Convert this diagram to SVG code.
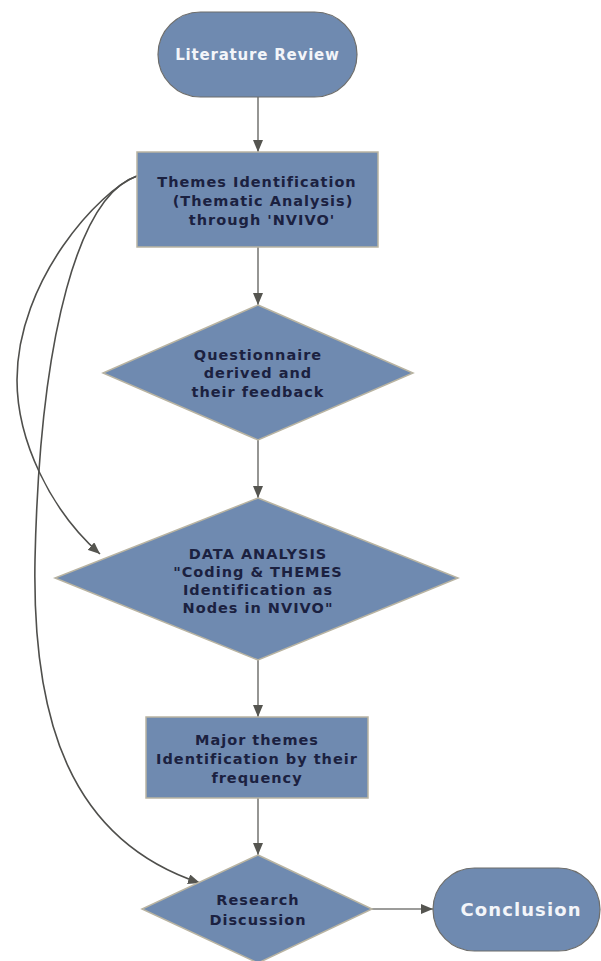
<svg xmlns="http://www.w3.org/2000/svg" width="601" height="961" viewBox="0 0 601 961">
<defs>
<style>
.shape{fill:#6f8ab0;stroke:#b9b4a2;stroke-width:1.5}
.pill{fill:#6f8ab0;stroke:#6d6d6b;stroke-width:1.2}
.t{font-family:"DejaVu Sans",Verdana,sans-serif;font-weight:bold;font-size:14.5px;letter-spacing:1px;fill:#1b2140;text-anchor:middle}
.w{font-family:"DejaVu Sans",Verdana,sans-serif;font-weight:bold;fill:#f3f5f9;text-anchor:middle}
.c{fill:none;stroke:#7b7b78;stroke-width:1.6}
.cc{fill:none;stroke:#4f4f4c;stroke-width:1.6}
</style>
<marker id="ah" viewBox="0 0 12 10" refX="12" refY="5" markerWidth="12" markerHeight="10" markerUnits="userSpaceOnUse" orient="auto">
<path d="M0,0 L12,5 L0,10 Z" fill="#555550"/>
</marker>
</defs>
<rect width="601" height="961" fill="#ffffff"/>
<g id="connectors">
<path class="c" d="M258,97 L258,152" marker-end="url(#ah)"/>
<path class="c" d="M258,247 L258,305" marker-end="url(#ah)"/>
<path class="c" d="M258,440 L258,498" marker-end="url(#ah)"/>
<path class="c" d="M258,660 L258,717" marker-end="url(#ah)"/>
<path class="c" d="M258,798 L258,855" marker-end="url(#ah)"/>
<path class="c" d="M372,909 L433,909" marker-end="url(#ah)"/>
<path class="cc" d="M137,176 C100,190 17,280 17,380 C17,440 50,510 100,554" marker-end="url(#ah)"/>
<path class="cc" d="M137,176 C80,195 40,330 35,560 C32,720 70,840 200,883" marker-end="url(#ah)"/>
</g>
<g id="literature-review">
<rect class="pill" x="158" y="12" width="199" height="85" rx="42.5"/>
<text class="w" x="257.5" y="60" font-size="15" letter-spacing="0.8">Literature Review</text>
</g>
<g id="themes-identification">
<rect class="shape" x="137" y="152" width="241" height="95"/>
<text class="t" x="257" y="187">Themes Identification</text>
<text class="t" x="263" y="206">(Thematic Analysis)</text>
<text class="t" x="262" y="225">through 'NVIVO'</text>
</g>
<g id="questionnaire">
<polygon class="shape" points="258,305 413,373 258,440 103,373"/>
<text class="t" x="258" y="360">Questionnaire</text>
<text class="t" x="258" y="378">derived and</text>
<text class="t" x="258" y="397">their feedback</text>
</g>
<g id="data-analysis">
<polygon class="shape" points="258,498 458,578 258,660 55,578"/>
<text class="t" x="258" y="559" font-size="15.5" letter-spacing="1.6">DATA ANALYSIS</text>
<text class="t" x="258" y="577">"Coding &amp; THEMES</text>
<text class="t" x="258" y="595">Identification as</text>
<text class="t" x="258" y="613">Nodes in NVIVO"</text>
</g>
<g id="major-themes">
<rect class="shape" x="146" y="717" width="222" height="81"/>
<text class="t" x="257" y="745">Major themes</text>
<text class="t" x="257" y="764">Identification by their</text>
<text class="t" x="257" y="783">frequency</text>
</g>
<g id="research-discussion">
<polygon class="shape" points="258,855 372,909 258,963 142,909"/>
<text class="t" x="258" y="905">Research</text>
<text class="t" x="258" y="925">Discussion</text>
</g>
<g id="conclusion">
<rect class="pill" x="433" y="868" width="167" height="83" rx="41.5"/>
<text class="w" x="521" y="916" font-size="18" letter-spacing="1.1">Conclusion</text>
</g>
</svg>
